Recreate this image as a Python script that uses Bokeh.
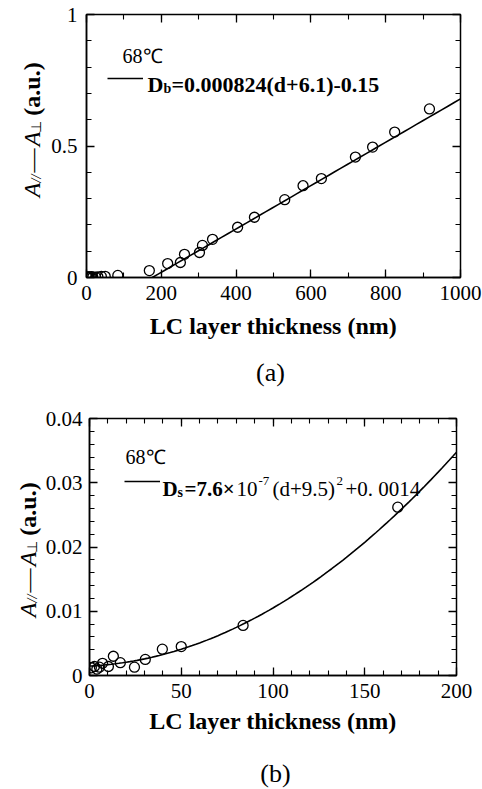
import numpy as np
from math import pi
from bokeh.plotting import figure
from bokeh.models import (LinearAxis, SingleIntervalTicker, CustomJSTickFormatter, Label,
                          Legend, LegendItem, Range1d, CustomLabelingPolicy)
from bokeh.layouts import column, row
from bokeh.embed import file_html
from bokeh.resources import INLINE

# ---------------- data ----------------
# thin LC layers (panel b, also visible near zero in panel a)
thin_d = [1, 2.7, 4, 5.4, 7.1, 10.3, 13, 16.8, 24.5, 30.4, 39.7, 50, 83.7, 168]
thin_A = [0.0012, 0.0014, 0.0010, 0.0013, 0.0019, 0.0014, 0.0030, 0.0020, 0.0013,
          0.0025, 0.0041, 0.0045, 0.0078, 0.0262]
# thick LC layers (panel a)
thick_d = [217, 251, 262, 302, 310, 337, 404, 449, 530, 579, 628, 719, 765, 824, 917]
thick_A = [0.053, 0.057, 0.088, 0.095, 0.122, 0.145, 0.191, 0.229, 0.296, 0.349,
           0.376, 0.458, 0.496, 0.553, 0.641]

# fit parameters shown in the legends
Db_slope, Db_shift, Db_offset = 0.000824, 6.1, 0.15
Ds_coef, Ds_shift, Ds_offset = 7.6e-7, 9.5, 0.0014

temperature = "68\u2103"
x_title = "LC layer thickness (nm)"

SERIF = "Liberation Serif"


def tick_fmt():
    return CustomJSTickFormatter(code="""
        if (Math.abs(tick) < 1e-12) { return "0"; }
        return parseFloat(tick.toFixed(4)).toString();
    """)


def hide_all():
    return CustomLabelingPolicy(code="""
        for (const i of Array.from(indices)) { indices.unset(i) }
        return indices
    """)


def lab(p, x, y, text, size, style="normal", angle=0.0, align="left",
        baseline="alphabetic", font=SERIF):
    p.add_layout(Label(x=x, y=y, x_units="screen", y_units="screen", text=text,
                       text_font=font, text_font_size=f"{size}px", text_font_style=style,
                       angle=angle, text_align=align, text_baseline=baseline,
                       text_color="black"))


def blank_fig(w, h, top=0, bottom=0):
    f = figure(width=w, height=h, x_range=Range1d(0, 1), y_range=Range1d(0, 1),
               output_backend="svg", toolbar_location=None,
               x_axis_location=None, y_axis_location=None,
               min_border_left=0, min_border_right=0,
               min_border_top=top, min_border_bottom=bottom)
    f.grid.visible = False
    f.outline_line_color = None
    return f


def make_fig(w, h, xr, yr, xint, xminor, yint, yminor, mb, xstand, ystand, tstand):
    p = figure(width=w, height=h, x_range=Range1d(*xr), y_range=Range1d(*yr),
               output_backend="svg", toolbar_location=None,
               min_border_left=mb[0], min_border_right=mb[1],
               min_border_top=mb[2], min_border_bottom=mb[3])
    p.grid.visible = False
    p.outline_line_color = "black"
    p.outline_line_width = 1.5

    xt = SingleIntervalTicker(interval=xint, num_minor_ticks=xminor)
    yt = SingleIntervalTicker(interval=yint, num_minor_ticks=yminor)

    xa = p.xaxis[0]
    ya = p.yaxis[0]
    xa.ticker = xt
    ya.ticker = yt
    ya.formatter = tick_fmt()
    for ax in (xa, ya):
        ax.axis_line_color = "black"
        ax.axis_line_width = 1.5
        ax.major_tick_in = 8
        ax.major_tick_out = 0
        ax.minor_tick_in = 5
        ax.minor_tick_out = 0
        ax.major_tick_line_width = 1.3
        ax.minor_tick_line_width = 1.1
        ax.major_label_text_font = SERIF
        ax.major_label_text_font_size = "21px"
        ax.major_label_text_color = "black"
    xa.major_label_standoff = xstand
    ya.major_label_standoff = ystand
    xa.axis_label = x_title
    xa.axis_label_text_font = SERIF
    xa.axis_label_text_font_style = "bold"
    xa.axis_label_text_font_size = "24px"
    xa.axis_label_text_color = "black"
    xa.axis_label_standoff = tstand

    top = LinearAxis(ticker=xt)
    right = LinearAxis(ticker=yt)
    for ax in (top, right):
        ax.axis_line_color = None
        ax.major_tick_in = 8
        ax.major_tick_out = 0
        ax.minor_tick_in = 5
        ax.minor_tick_out = 0
        ax.major_tick_line_width = 1.3
        ax.minor_tick_line_width = 1.1
        ax.major_label_text_font_size = "1px"
        ax.major_label_standoff = 0
        ax.major_label_policy = hide_all()
    p.add_layout(top, "above")
    p.add_layout(right, "right")
    return p


def y_title(f, xc, y_bottom, s=1.0):
    """Pieces of 'A// - A_perp (a.u.)', rotated to read upwards; each piece is
    anchored at its own centre (xc = centre line, y_bottom = start of the title)."""
    F = round(24 * s)
    sub = round(14 * s)
    pieces = [  # text, size, style, start along title, length, sideways shift
        ("A", F, "italic", 0, 15, 0),
        ("//", sub, "italic", 15, 8, 5),
        ("\u2014", F, "normal", 25, 24, 0),
        ("A", F, "italic", 51, 15, 0),
        ("\u22a5", sub, "normal", 66, 9, 5),
        ("(a.u.)", F, "bold", 82, 53, 0),
    ]
    for text, size, style, start, length, shift in pieces:
        lab(f, xc + shift * s, y_bottom + (start + length / 2) * s, text, size, style,
            pi / 2, align="center", baseline="middle")


def legend_line(p, r, x, y, w):
    lg = Legend(items=[LegendItem(label=" ", renderers=[r])], location=(x, y),
                glyph_width=w, glyph_height=16, label_height=16, label_width=1,
                padding=0, margin=0, spacing=0, label_standoff=0,
                border_line_color=None, background_fill_alpha=0,
                label_text_font_size="8px")
    p.add_layout(lg)


# ---------------- panel (a) ----------------
TA_W = 46
pa = make_fig(482 - TA_W, 345, (0, 1000), (0, 1), 200, 2, 0.5, 5,
              (86 - TA_W, 22, 14, 68), 8, 9, 10)
d_start = Db_offset / Db_slope - Db_shift
fit_a_d = np.linspace(d_start, 1000, 50)
fit_a_A = Db_slope * (fit_a_d + Db_shift) - Db_offset
ra = pa.line(fit_a_d, fit_a_A, line_color="black", line_width=1.6)
pa.scatter(thin_d + thick_d, thin_A + thick_A, marker="circle", size=10,
           fill_color=None, line_color="black", line_width=1.3)
legend_line(pa, ra, 21, 191, 36)
lab(pa, 36, 222, temperature, 20)
lab(pa, 61, 193, "D", 22, "bold")
lab(pa, 77, 189, "b", 14, "bold")
lab(pa, 85, 193, "=0.000824(d+6.1)-0.15", 22, "bold")

# strip holding the y title; its frame spans the same rows as panel (a)'s frame
ta = blank_fig(TA_W, 345, top=14, bottom=68)
y_title(ta, 31, 80)
capa = blank_fig(482, 53)
lab(capa, 270, 26, "(a)", 26, align="center")

# ---------------- panel (b) ----------------
TB_W = 42
pb = make_fig(482 - TB_W, 342, (0, 200), (0, 0.04), 50, 5, 0.01, 5,
              (87 - TB_W, 26, 20, 65), 8, 7, 7)
fit_b_d = np.linspace(0, 200, 101)
fit_b_A = Ds_coef * (fit_b_d + Ds_shift) ** 2 + Ds_offset
rb = pb.line(fit_b_d, fit_b_A, line_color="black", line_width=1.6)
pb.scatter(thin_d, thin_A, marker="circle", size=10,
           fill_color=None, line_color="black", line_width=1.3)
legend_line(pb, rb, 35, 186, 36)
lab(pb, 36, 219, temperature, 20)
lab(pb, 73, 187, "D", 21, "bold")
lab(pb, 88, 183, "s", 14, "bold")
lab(pb, 95, 187, "=7.6\u00d7", 21, "bold")
lab(pb, 147, 187, "10", 21)
lab(pb, 169, 195, "-7", 13)
lab(pb, 183, 187, "(d+9.5)", 21)
lab(pb, 247, 195, "2", 13)
lab(pb, 256, 187, "+0. 0014", 21)

tb = blank_fig(TB_W, 342, top=20, bottom=65)
y_title(tb, 27, 58, 1.0)
capb = blank_fig(482, 49)
lab(capb, 275, 16, "(b)", 26, align="center")

layout = column(row(column(ta), pa), capa, row(column(tb), pb), capb, spacing=0)
open("out.html", "w").write(file_html(layout, INLINE))
